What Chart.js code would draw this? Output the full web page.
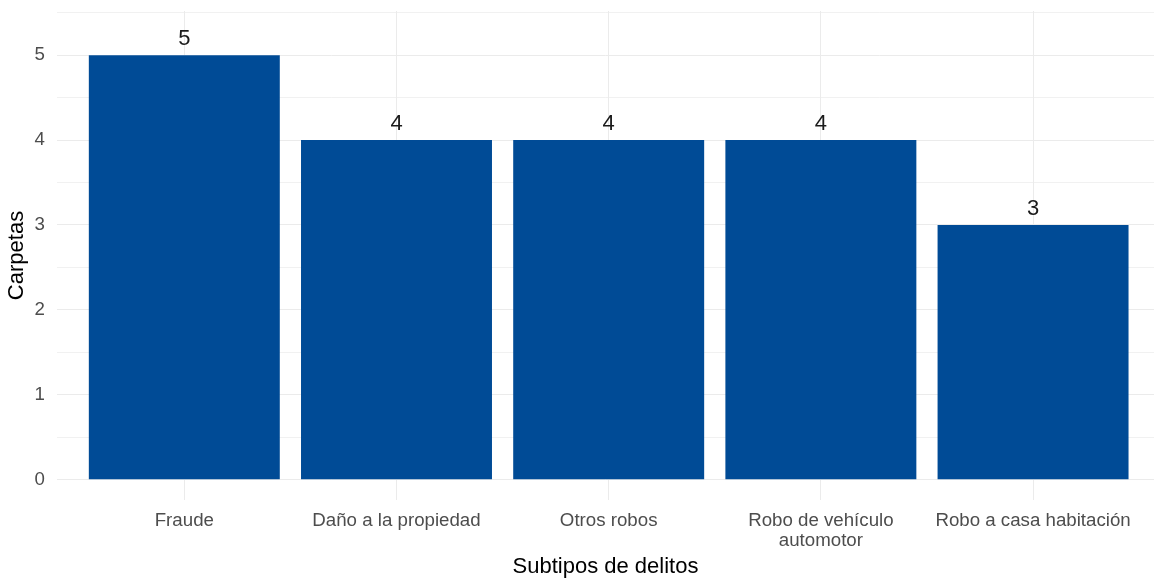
<!DOCTYPE html>
<html>
<head>
<meta charset="utf-8">
<script src="https://cdn.jsdelivr.net/npm/chart.js@4"></script>
<style>
  html, body { margin: 0; padding: 0; background: #fff; }
  #wrap { width: 1154px; height: 580px; position: relative; }
</style>
</head>
<body>
<div id="wrap"><canvas id="myChart"></canvas></div>
<script>
const categories = ["Fraude", "Daño a la propiedad", "Otros robos", ["Robo de vehículo", "automotor"], "Robo a casa habitación"];
const carpetas = [5, 4, 4, 4, 3];
const yTickValues = [0, 1, 2, 3, 4, 5];
const yGridValues = [0, 0.5, 1, 1.5, 2, 2.5, 3, 3.5, 4, 4.5, 5, 5.5];

const barColor = "#004B96";
const font = "'Liberation Sans', Arial, sans-serif";

const valueLabels = {
    id: "valueLabels",
    afterDatasetsDraw(chart) {
        const c = chart.ctx;
        const meta = chart.getDatasetMeta(0);
        c.save();
        c.font = "22px " + font;
        c.fillStyle = "#1a1a1a";
        c.textAlign = "center";
        c.textBaseline = "alphabetic";
        meta.data.forEach((bar, i) => {
            c.fillText(String(carpetas[i]), bar.x, bar.y - 10);
        });
        c.restore();
    }
};

const ctx = document.getElementById('myChart');

new Chart(ctx, {
    type: "bar",
    data: {
        datasets: [{
            data: carpetas.map((v, i) => ({x: i, y: v})),
            backgroundColor: barColor,
            borderWidth: 0,
            barPercentage: 0.9,
            categoryPercentage: 1.0
        }]
    },
    options: {
        responsive: true,
        maintainAspectRatio: false,
        animation: false,
        layout: {padding: {top: 11, right: 0, left: 0, bottom: 0}},
        plugins: {
            legend: {display: false},
            tooltip: {enabled: false}
        },
        scales: {
            x: {
                type: "linear",
                offset: false,
                min: -0.6,
                max: 4.57,
                afterBuildTicks: (scale) => {
                    scale.ticks = categories.map((c, i) => ({value: i}));
                },
                afterFit: (scale) => {
                    scale.height = 80;
                    scale.paddingLeft = 0;
                    scale.paddingRight = 0;
                },
                border: {display: false},
                grid: {color: "#ebebeb", lineWidth: 1, drawTicks: false, offset: false},
                ticks: {
                    padding: 11,
                    color: "#4d4d4d",
                    font: {family: font, size: 18.7, lineHeight: 1.07},
                    maxRotation: 0,
                    autoSkip: false,
                    callback: (v) => categories[v]
                },
                title: {
                    display: true,
                    text: "Subtipos de delitos",
                    color: "#000",
                    font: {family: font, size: 22},
                    padding: {top: 0, bottom: 0}
                }
            },
            y: {
                min: -0.24,
                max: 5.52,
                afterBuildTicks: (scale) => {
                    scale.ticks = yGridValues.map(v => ({value: v}));
                },
                afterFit: (scale) => {
                    scale.width = 57;
                    scale.paddingTop = 0;
                    scale.paddingBottom = 0;
                },
                border: {display: false},
                grid: {
                    color: "#ebebeb",
                    lineWidth: (c) => yTickValues.includes(c.tick.value) ? 1 : 0.7,
                    drawTicks: false
                },
                ticks: {
                    padding: 12,
                    color: "#4d4d4d",
                    font: {family: font, size: 18.7},
                    callback: (v) => yTickValues.includes(v) ? String(v) : ""
                },
                title: {
                    display: true,
                    text: "Carpetas",
                    color: "#000",
                    font: {family: font, size: 22},
                    padding: {top: 4, bottom: 0}
                }
            }
        }
    },
    plugins: [valueLabels]
});
</script>
</body>
</html>
